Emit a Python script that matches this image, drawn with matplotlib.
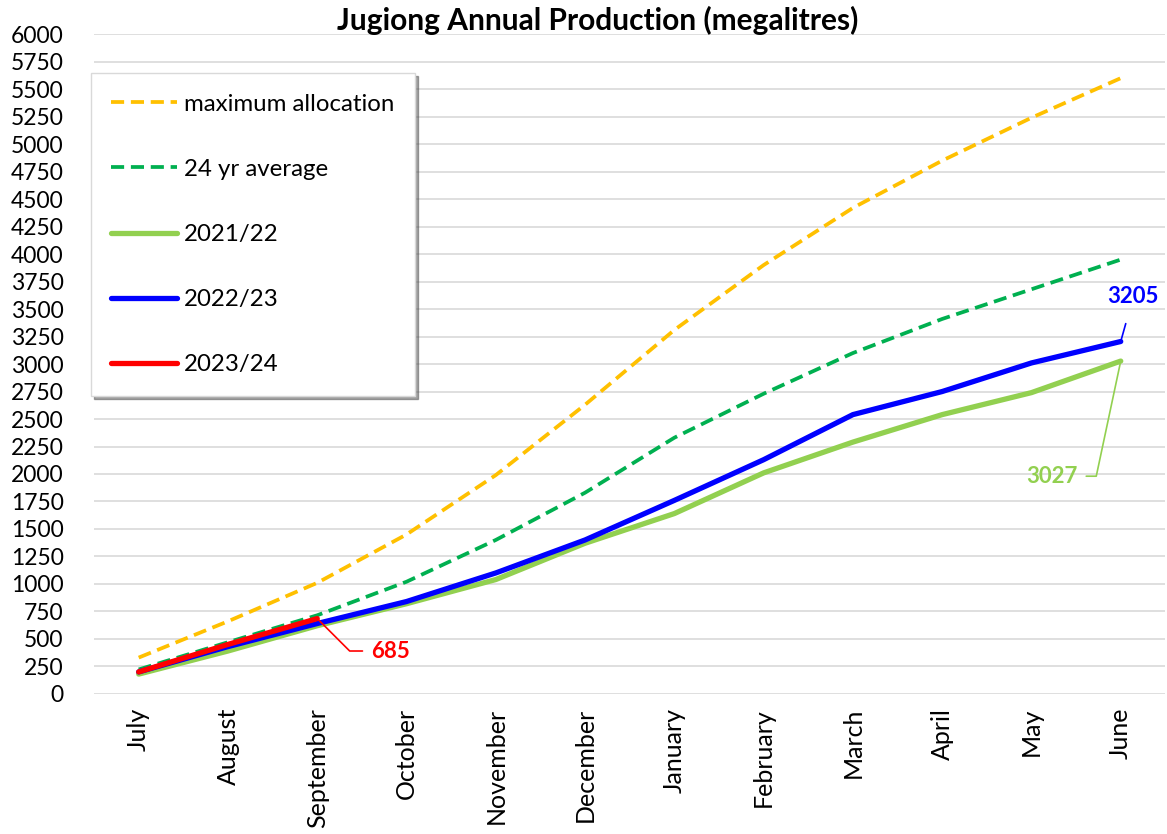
import numpy as np
import matplotlib.pyplot as plt

plt.rcParams['font.family'] = ['Lato', 'DejaVu Sans']

# ---------------------------------------------
# data
months = ["July", "August", "September", "October", "November", "December",
          "January", "February", "March", "April", "May", "June"]
max_allocation = [330, 660, 1010, 1450, 1990, 2630, 3310, 3900, 4420, 4850, 5240, 5600]
avg_24yr = [222, 470, 715, 1020, 1400, 1830, 2330, 2730, 3100, 3410, 3680, 3950]
y2021_22 = [180, 390, 620, 820, 1040, 1370, 1640, 2010, 2290, 2540, 2740, 3027]
y2022_23 = [200, 430, 640, 840, 1100, 1400, 1760, 2130, 2540, 2750, 3010, 3205]
y2023_24 = [200, 450, 685]

x = np.arange(len(months))

# ---------------------------------------------
# plot
fig = plt.figure(figsize=(11.67, 8.34), dpi=100)
ax = fig.add_axes([0.0806, 0.168, 0.918, 0.791])

dash = (0, (3.5, 1.8))
ax.plot(x, max_allocation, color='#FFC000', lw=2.7, ls=dash, label='maximum allocation')
ax.plot(x, avg_24yr, color='#00B050', lw=2.7, ls=dash, label='24 yr average')
ax.plot(x, y2021_22, color='#92D050', lw=3.8, label='2021/22', solid_capstyle='round')
ax.plot(x, y2022_23, color='#0000FF', lw=3.8, label='2022/23', solid_capstyle='round')
ax.plot(x[:len(y2023_24)], y2023_24, color='#FF0000', lw=3.8, label='2023/24', solid_capstyle='round')

# labels on last points
ax.annotate(f"{y2023_24[-1]}", xy=(2, y2023_24[-1]), xytext=(2.6, 390),
            color='#FF0000', fontsize=16, fontweight='bold', va='center', ha='left',
            arrowprops=dict(arrowstyle='-', color='#FF0000', lw=1.2,
                            connectionstyle='angle,angleA=0,angleB=-45,rad=0',
                            shrinkA=4, shrinkB=0))
ax.annotate(f"{y2022_23[-1]}", xy=(11, y2022_23[-1]), xytext=(11.14, 3610),
            color='#0000FF', fontsize=16, fontweight='bold', va='center', ha='center',
            arrowprops=dict(arrowstyle='-', color='#0000FF', lw=1.2, shrinkA=10, shrinkB=0))
ax.annotate(f"{y2021_22[-1]}", xy=(11, y2021_22[-1]), xytext=(10.52, 1980),
            color='#92D050', fontsize=16, fontweight='bold', va='center', ha='right',
            arrowprops=dict(arrowstyle='-', color='#92D050', lw=1.2,
                            connectionstyle='angle,angleA=0,angleB=78,rad=0',
                            shrinkA=4, shrinkB=0))

ax.set_xlim(-0.5, 11.5)
ax.set_ylim(0, 6000)
ax.set_yticks(np.arange(0, 6001, 250))
ax.set_xticks(x)
ax.set_xticklabels(months, rotation=90, fontsize=18)
ax.tick_params(axis='y', length=0, pad=22, labelsize=16.5)
ax.tick_params(axis='x', length=0, pad=10)
ax.grid(axis='y', color='#D9D9D9', lw=1.2)
ax.set_axisbelow(True)
for s in ax.spines.values():
    s.set_visible(False)

fig.text(0.512, 0.975, 'Jugiong Annual Production (megalitres)', fontsize=21.5,
         fontweight='bold', ha='center', va='center')

leg = ax.legend(loc='upper left', bbox_to_anchor=(-0.003, 0.941), borderaxespad=0,
                fontsize=17.3, labelspacing=1.84, handlelength=2.75, handletextpad=0.28,
                borderpad=0.85, fancybox=False, shadow=True, framealpha=1,
                edgecolor='#D9D9D9')

plt.savefig('out.png', dpi=100)
